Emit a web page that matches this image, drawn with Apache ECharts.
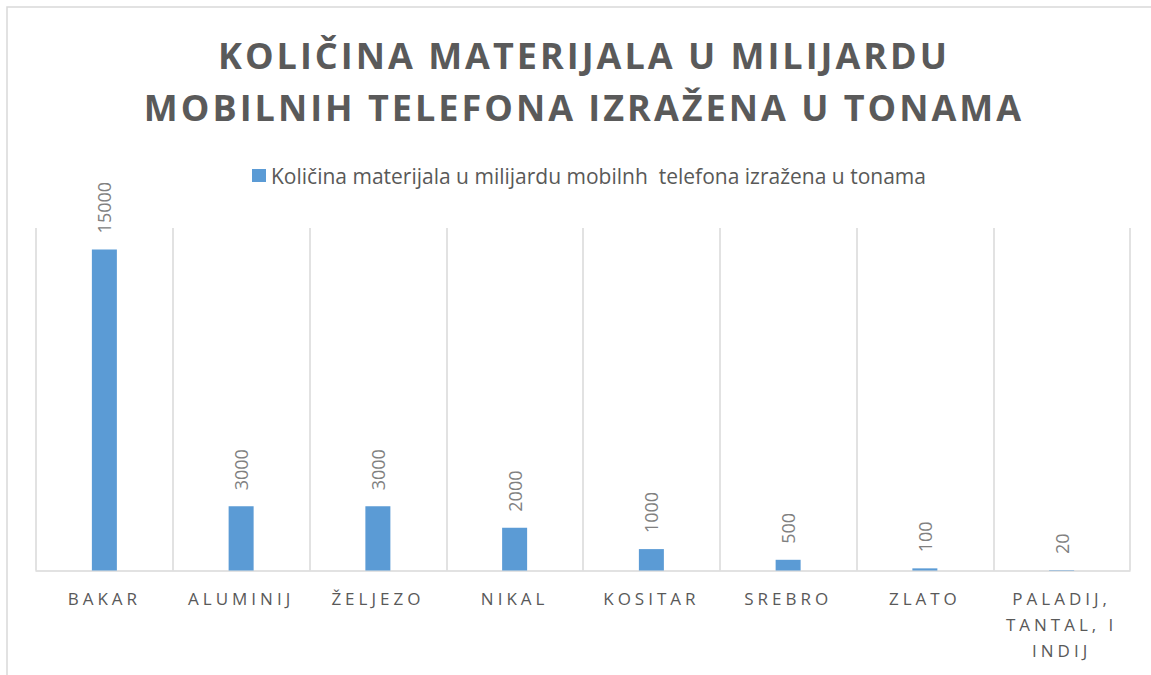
<!DOCTYPE html>
<html>
<head>
<meta charset="utf-8">
<script src="https://cdn.jsdelivr.net/npm/echarts@6/dist/echarts.min.js"></script>
<style>
  html, body { margin: 0; padding: 0; background: #ffffff; }
  #chart { width: 1151px; height: 675px; }
  /* spaced capitals for the title and the category names */
  #chart svg text[fill="#595959"] { letter-spacing: 4px; }
  #chart svg text[fill="#5a5a5a"] { letter-spacing: 3px; }
</style>
</head>
<body>
<div id="chart"></div>
<script>
// Materials in one billion mobile phones, in tonnes
const categories = ['BAKAR', 'ALUMINIJ', 'ŽELJEZO', 'NIKAL', 'KOSITAR', 'SREBRO', 'ZLATO', 'PALADIJ,\nTANTAL, I\nINDIJ'];
const tonnes = [15000, 3000, 3000, 2000, 1000, 500, 100, 20];
const seriesName = 'Količina materijala u milijardu mobilnh  telefona izražena u tonama';
const titleText = 'KOLIČINA MATERIJALA U MILIJARDU\nMOBILNIH TELEFONA IZRAŽENA U TONAMA';

const chart = echarts.init(document.getElementById('chart'), null, { renderer: 'svg' });

chart.setOption({
  animation: false,
  backgroundColor: '#ffffff',
  textStyle: { fontFamily: '"Open Sans", sans-serif' },
  graphic: [{
    type: 'rect',
    silent: true,
    z: -10,
    shape: { x: 7, y: 7, width: 1200, height: 700 },
    style: { fill: 'none', stroke: '#d9d9d9', lineWidth: 1.5 }
  }],
  title: {
    text: titleText,
    left: 584,
    textAlign: 'center',
    top: 29,
    padding: 0,
    textStyle: {
      color: '#5a5a5a',
      fontFamily: '"Open Sans", sans-serif',
      fontWeight: 'bold',
      fontSize: 36,
      lineHeight: 52
    }
  },
  legend: {
    data: [seriesName],
    left: 252,
    top: 164.5,
    padding: 0,
    icon: 'rect',
    itemWidth: 14,
    itemHeight: 13,
    textStyle: { color: '#595958', fontSize: 21, lineHeight: 22, fontFamily: '"Open Sans", sans-serif' }
  },
  grid: { left: 36, right: 21, top: 228, bottom: 104.5, containLabel: false },
  xAxis: {
    type: 'category',
    data: categories,
    axisLine: { lineStyle: { color: '#d9d9d9', width: 1.5 } },
    axisTick: { show: false },
    splitLine: { show: true, lineStyle: { color: '#d9d9d9', width: 1.5 } },
    axisLabel: {
      color: '#595959',
      fontSize: 17,
      margin: 15,
      lineHeight: 26,
      interval: 0,
      fontFamily: '"Open Sans", sans-serif'
    }
  },
  yAxis: {
    type: 'value',
    min: 0,
    max: 16000,
    show: false,
    splitLine: { show: false }
  },
  series: [{
    name: seriesName,
    type: 'bar',
    data: tonnes,
    barWidth: 25,
    itemStyle: { color: '#5b9bd5' },
    label: {
      show: true,
      position: 'top',
      rotate: 90,
      align: 'left',
      verticalAlign: 'middle',
      distance: 16,
      color: '#808080',
      fontSize: 18,
      fontFamily: '"Open Sans", sans-serif'
    }
  }]
});
</script>
</body>
</html>
